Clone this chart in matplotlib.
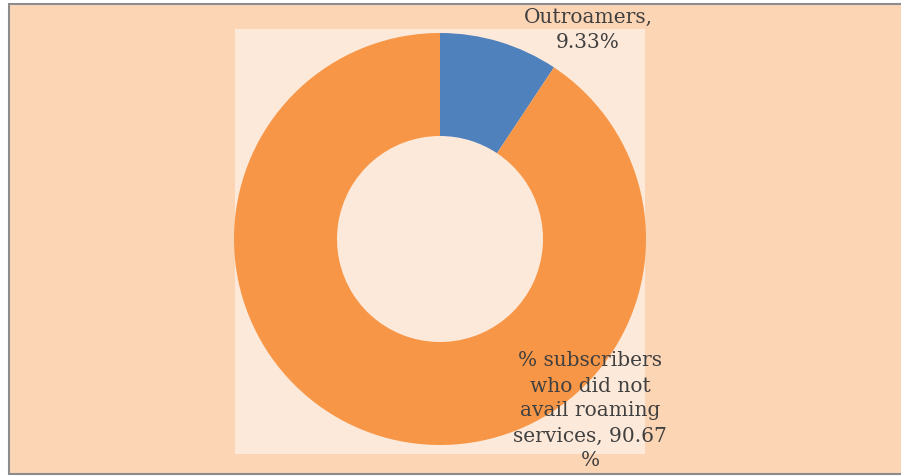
import matplotlib.pyplot as plt
from matplotlib.patches import Rectangle

labels = ['Outroamers', '% subscribers who did not avail roaming services']
values = [9.33, 90.67]
colors = ['#4F81BD', '#F79646']

W, H = 901, 477
fig = plt.figure(figsize=(W / 100, H / 100), dpi=100)
fig.patch.set_facecolor('white')

# outer chart area with grey frame
fig.patches.append(Rectangle((9 / W, 2 / H), 1.0, (H - 7) / H, transform=fig.transFigure,
                             facecolor='#FCD5B5', edgecolor='#8C8C8C', linewidth=1.5, zorder=-3))
# inner plot area
fig.patches.append(Rectangle((235 / W, (H - 455) / H), 410 / W, 425 / H, transform=fig.transFigure,
                             facecolor='#FDE9D9', edgecolor='none', zorder=-2))

cx, cy, half = 440, 240, 210
ax = fig.add_axes([(cx - half) / W, (H - cy - half) / H, 2 * half / W, 2 * half / H])
ax.set_facecolor('none')
r_out = 206 / half
r_in = 103 / half
ax.pie(values, colors=colors, startangle=90, counterclock=False, radius=r_out,
       wedgeprops=dict(width=r_out - r_in, edgecolor='none'))
ax.set_xlim(-1, 1)
ax.set_ylim(-1, 1)
ax.set_aspect('equal')
ax.axis('off')

font = dict(family='DejaVu Serif', size=14.5, color='#404040', ha='center', va='center',
            linespacing=1.4)
fig.text(588 / W, 1 - 30 / H, 'Outroamers,\n' + f'{values[0]:.2f}%', **font)
fig.text(590 / W, 1 - 411 / H, '% subscribers\nwho did not\navail roaming\nservices, ' + f'{values[1]:.2f}' + '\n%', **font)

fig.savefig('out.png', dpi=100)
